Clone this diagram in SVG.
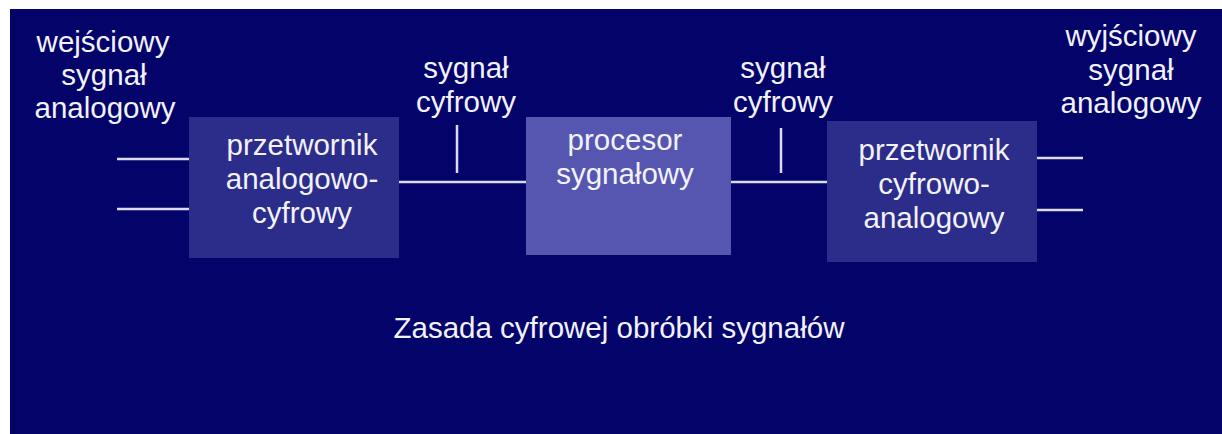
<svg xmlns="http://www.w3.org/2000/svg" width="1222" height="434" viewBox="0 0 1222 434">
<style>
.t{font-family:"Liberation Sans",Arial,sans-serif;font-size:29.5px;fill:#f2f2fa;text-anchor:middle}
.box{fill:#2c2c8a}
.proc{fill:#5656b0}
.ln{stroke:#dcdcf0;stroke-width:2.5;fill:none}
</style>
<rect x="0" y="0" width="1222" height="434" fill="#ffffff"/>
<rect x="10" y="9" width="1212" height="425" fill="#03036a"/>
<g id="input-label">
<text class="t" x="103" y="52">wejściowy</text>
<text class="t" x="104" y="85">sygnał</text>
<text class="t" x="105" y="118">analogowy</text>
</g>
<g id="adc">
<rect class="box" x="189" y="117" width="210" height="141"/>
<text class="t" x="302" y="155">przetwornik</text>
<text class="t" x="302" y="189">analogowo-</text>
<text class="t" x="302" y="223">cyfrowy</text>
</g>
<g id="digital-label-1">
<text class="t" x="466" y="78">sygnał</text>
<text class="t" x="466" y="112">cyfrowy</text>
</g>
<g id="processor">
<rect class="proc" x="526" y="117" width="205" height="138"/>
<text class="t" x="625" y="150">procesor</text>
<text class="t" x="625" y="184">sygnałowy</text>
</g>
<g id="digital-label-2">
<text class="t" x="783" y="78">sygnał</text>
<text class="t" x="783" y="112">cyfrowy</text>
</g>
<g id="dac">
<rect class="box" x="827" y="121" width="210" height="141"/>
<text class="t" x="934" y="160">przetwornik</text>
<text class="t" x="934" y="194">cyfrowo-</text>
<text class="t" x="934" y="228">analogowy</text>
</g>
<g id="output-label">
<text class="t" x="1131" y="46">wyjściowy</text>
<text class="t" x="1131" y="80">sygnał</text>
<text class="t" x="1131" y="113">analogowy</text>
</g>
<g id="connectors">
<line class="ln" x1="117" y1="159" x2="189" y2="159"/>
<line class="ln" x1="117" y1="209" x2="189" y2="209"/>
<line class="ln" x1="399" y1="182" x2="526" y2="182"/>
<line class="ln" x1="457" y1="125" x2="457" y2="173"/>
<line class="ln" x1="731" y1="182" x2="827" y2="182"/>
<line class="ln" x1="781" y1="128" x2="781" y2="173"/>
<line class="ln" x1="1037" y1="158" x2="1083" y2="158"/>
<line class="ln" x1="1037" y1="210" x2="1083" y2="210"/>
</g>
<g id="caption">
<text class="t" x="619" y="338">Zasada cyfrowej obróbki sygnałów</text>
</g>
</svg>
